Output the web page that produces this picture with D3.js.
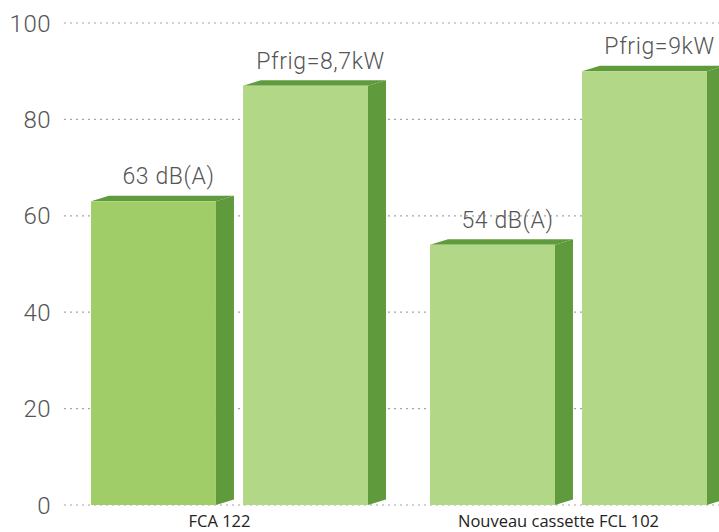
<!DOCTYPE html>
<html>
<head>
<meta charset="utf-8">
<script src="https://cdn.jsdelivr.net/npm/d3@7"></script>
<style>
  body { margin: 0; background: #fff; }
  svg { display: block; }
</style>
</head>
<body>
<div id="chart"></div>
<script>
// chart data
const categories = ["FCA 122", "Nouveau cassette FCL 102"];
const series = ["bruit", "puissance"];
const values = [[63, 87], [54, 90]];
const barLabels = [["63 dB(A)", "Pfrig=8,7kW"], ["54 dB(A)", "Pfrig=9kW"]];
const frontColors = [["#a0cd68", "#b2d887"], ["#b2d887", "#b2d887"]];
const yTicks = [0, 20, 40, 60, 80, 100];

const width = 719, height = 532;
const depthX = 18, depthY = 5.5;
const labelFont = "Roboto, 'Open Sans', sans-serif";

const svg = d3.select("#chart").append("svg")
  .attr("width", width)
  .attr("height", height);

const y = d3.scaleLinear().domain([0, 100]).range([505, 23]);

const x0 = d3.scaleBand()
  .domain(categories)
  .range([60, 738])
  .paddingInner(0.183)
  .paddingOuter(0.0915);

const x1 = d3.scaleBand()
  .domain(series)
  .range([0, x0.bandwidth()])
  .paddingInner(0.178);

// grid lines + tick labels
const grid = svg.append("g");
grid.selectAll("line")
  .data(yTicks)
  .join("line")
  .attr("x1", 64)
  .attr("x2", width)
  .attr("y1", (d) => y(d))
  .attr("y2", (d) => y(d))
  .attr("stroke", "#a6a6a6")
  .attr("stroke-width", 1.2)
  .attr("stroke-dasharray", "2,4");

grid.selectAll("text")
  .data(yTicks)
  .join("text")
  .attr("x", 51)
  .attr("y", (d) => y(d))
  .attr("dy", "0.36em")
  .attr("text-anchor", "end")
  .attr("font-family", labelFont)
  .attr("font-weight", 300)
  .attr("font-size", 24)
  .attr("letter-spacing", 0.5)
  .attr("fill", "#555")
  .text((d) => d);

// bars
const bars = [];
categories.forEach((c, i) => {
  series.forEach((s, j) => {
    bars.push({ cat: c, ser: s, value: values[i][j], label: barLabels[i][j], color: frontColors[i][j] });
  });
});

const g = svg.append("g");
const bar = g.selectAll("g.bar")
  .data(bars)
  .join("g")
  .attr("class", "bar")
  .attr("transform", (d) => `translate(${x0(d.cat) + x1(d.ser)},0)`);

const bw = x1.bandwidth();

// side face
bar.append("path")
  .attr("fill", "#5f9a3c")
  .attr("d", (d) => {
    const t = y(d.value), b = y(0);
    return `M${bw},${b} L${bw + depthX},${b - depthY} L${bw + depthX},${t - depthY} L${bw},${t} Z`;
  });

// top face
bar.append("path")
  .attr("fill", "#5f9a3c")
  .attr("d", (d) => {
    const t = y(d.value);
    return `M0,${t} L${depthX},${t - depthY} L${bw + depthX},${t - depthY} L${bw},${t} Z`;
  });

// front face
bar.append("rect")
  .attr("x", 0)
  .attr("y", (d) => y(d.value))
  .attr("width", bw)
  .attr("height", (d) => y(0) - y(d.value))
  .attr("fill", (d) => d.color);

// value labels
bar.append("text")
  .attr("x", bw / 2 + 15)
  .attr("y", (d) => y(d.value) - 17)
  .attr("text-anchor", "middle")
  .attr("font-family", labelFont)
  .attr("font-weight", 300)
  .attr("font-size", 23)
  .attr("letter-spacing", 0.6)
  .attr("fill", "#555")
  .text((d) => d.label);

// category labels
svg.append("g")
  .selectAll("text")
  .data(categories)
  .join("text")
  .attr("x", (d) => x0(d) + x0.bandwidth() / 2 - 10)
  .attr("y", 527)
  .attr("text-anchor", "middle")
  .attr("font-family", "'Open Sans', sans-serif")
  .attr("font-size", 16.5)
  .attr("fill", "#222")
  .text((d) => d);
</script>
</body>
</html>
